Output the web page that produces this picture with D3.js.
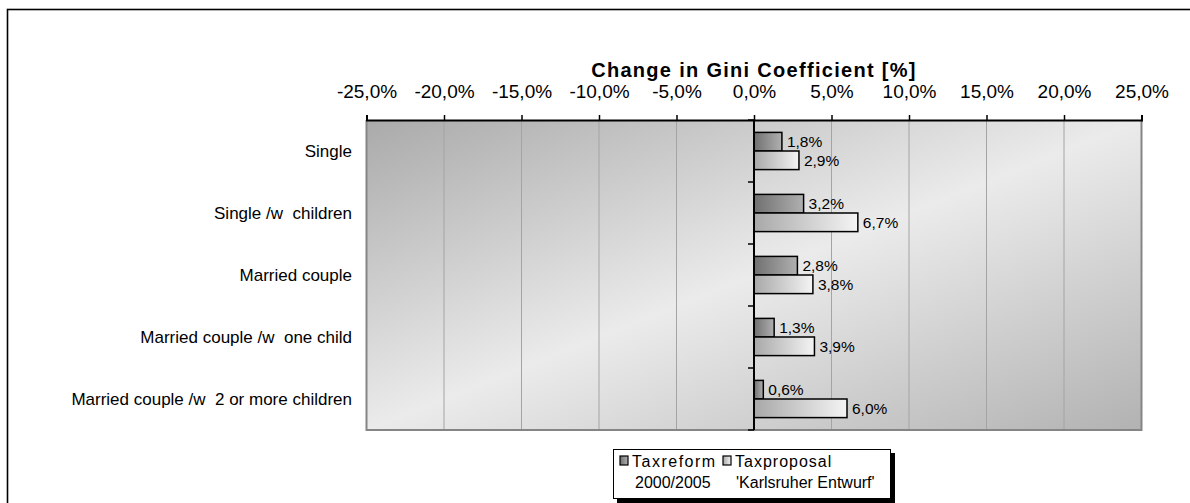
<!DOCTYPE html>
<html>
<head>
<meta charset="utf-8">
<script src="https://cdn.jsdelivr.net/npm/d3@7"></script>
<style>
  html, body { margin: 0; padding: 0; background: #fff; }
  svg { display: block; font-family: "Liberation Sans", Arial, sans-serif; }
</style>
</head>
<body>
<svg id="chart" width="1190" height="503"></svg>
<script>
// Household types and the change in the Gini coefficient (in %) under each scheme
const categories = [
  "Single",
  "Single /w  children",
  "Married couple",
  "Married couple /w  one child",
  "Married couple /w  2 or more children"
];
const taxreform = [1.8, 3.2, 2.8, 1.3, 0.6];
const karlsruhe = [2.9, 6.7, 3.8, 3.9, 6.0];
const seriesNames = [["Taxreform", "2000/2005"], ["Taxproposal", "'Karlsruher Entwurf'"]];
const xTicks = [-25, -20, -15, -10, -5, 0, 5, 10, 15, 20, 25];

// Decimal comma, plain hyphen for negatives
const fmt = v => (v < 0 ? "-" : "") + Math.abs(v).toFixed(1).replace(".", ",") + "%";

const svg = d3.select("#chart");
const plot = { left: 366.5, right: 1141.5, top: 120, bottom: 430 };

// Gradients
const defs = svg.append("defs");
const bg = defs.append("linearGradient").attr("id", "bgGrad")
  .attr("x1", 0).attr("y1", 0).attr("x2", 1).attr("y2", 1);
bg.append("stop").attr("offset", 0).attr("stop-color", "#aaaaaa");
bg.append("stop").attr("offset", 0.5).attr("stop-color", "#ebebeb");
bg.append("stop").attr("offset", 1).attr("stop-color", "#b2b2b2");

const g1 = defs.append("linearGradient").attr("id", "darkGrad");
g1.append("stop").attr("offset", 0).attr("stop-color", "#707070");
g1.append("stop").attr("offset", 1).attr("stop-color", "#b0b0b0");
const g2 = defs.append("linearGradient").attr("id", "lightGrad");
g2.append("stop").attr("offset", 0).attr("stop-color", "#a8a8a8");
g2.append("stop").attr("offset", 1).attr("stop-color", "#f4f4f4");
const fills = ["url(#darkGrad)", "url(#lightGrad)"];

// Outer frame
svg.append("rect").attr("x", 7.5).attr("y", 9.5).attr("width", 1300).attr("height", 700)
  .attr("fill", "none").attr("stroke", "#000").attr("stroke-width", 1.6);

// Scales
const x = d3.scaleLinear().domain([-25, 25]).range([plot.left, plot.right]);
const y = d3.scaleBand().domain(categories).range([plot.top, plot.bottom]).paddingInner(0.4).paddingOuter(0.2);
const ySub = d3.scaleBand().domain([0, 1]).range([0, y.bandwidth()]);

// Plot background
svg.append("rect").attr("x", plot.left).attr("y", plot.top)
  .attr("width", plot.right - plot.left).attr("height", plot.bottom - plot.top)
  .attr("fill", "url(#bgGrad)");

// Gridlines
svg.append("g").selectAll("line").data(xTicks.filter(t => t !== 0 && t !== -25 && t !== 25)).join("line")
  .attr("x1", d => x(d)).attr("x2", d => x(d))
  .attr("y1", plot.top).attr("y2", plot.bottom)
  .attr("stroke", "#a4a4a4").attr("stroke-width", 1);

// Plot border (left, right, bottom)
svg.append("path")
  .attr("d", `M${plot.left},${plot.top} V${plot.bottom} H${plot.right} V${plot.top}`)
  .attr("fill", "none").attr("stroke", "#858585").attr("stroke-width", 2);

// Top axis
const xAxis = svg.append("g").attr("transform", `translate(0,${plot.top})`)
  .call(d3.axisTop(x).tickValues(xTicks).tickFormat(fmt).tickSize(5).tickPadding(17));
xAxis.select(".domain").attr("stroke", "#000").attr("stroke-width", 2);
xAxis.selectAll(".tick line").attr("stroke", "#000").attr("stroke-width", 1.5);
xAxis.selectAll(".tick text").attr("font-size", 19).attr("fill", "#000")
  .attr("font-family", "'Liberation Sans', Arial, sans-serif");

// Title
svg.append("text").attr("x", x(0)).attr("y", 76.5).attr("text-anchor", "middle")
  .attr("font-size", 20).attr("font-weight", "bold").attr("letter-spacing", 1.3)
  .text("Change in Gini Coefficient [%]");

// Bars
const groups = svg.append("g").selectAll("g").data(categories).join("g")
  .attr("transform", d => `translate(0,${y(d)})`);
[taxreform, karlsruhe].forEach((vals, s) => {
  groups.append("rect")
    .attr("x", (d, i) => x(Math.min(0, vals[i])))
    .attr("y", ySub(s))
    .attr("width", (d, i) => Math.abs(x(vals[i]) - x(0)))
    .attr("height", ySub.bandwidth())
    .attr("fill", fills[s]).attr("stroke", "#000").attr("stroke-width", 1.5);
  groups.append("text")
    .attr("x", (d, i) => x(vals[i]) + 5)
    .attr("y", ySub(s) + ySub.bandwidth() / 2)
    .attr("dy", "0.35em")
    .attr("font-size", 15.5)
    .text((d, i) => fmt(vals[i]));
});

// Category axis along zero
const step = y.step();
const bounds = d3.range(categories.length + 1).map(i => plot.top + i * step);
svg.append("g").selectAll("line").data(bounds).join("line")
  .attr("x1", x(0) - 6).attr("x2", x(0)).attr("y1", d => d).attr("y2", d => d)
  .attr("stroke", "#000").attr("stroke-width", 1.5);
svg.append("line").attr("x1", x(0)).attr("x2", x(0)).attr("y1", plot.top).attr("y2", plot.bottom)
  .attr("stroke", "#000").attr("stroke-width", 2);

// Category labels
svg.append("g").selectAll("text").data(categories).join("text")
  .attr("x", 352).attr("y", d => y(d) + y.bandwidth() / 2).attr("dy", "0.35em")
  .attr("text-anchor", "end").attr("font-size", 17).attr("xml:space", "preserve")
  .style("white-space", "pre")
  .text(d => d);

// Legend
const lg = svg.append("g").attr("transform", "translate(613,449)");
lg.append("rect").attr("x", 4).attr("y", 4).attr("width", 278).attr("height", 50).attr("fill", "#000");
lg.append("rect").attr("x", 0.5).attr("y", 0.5).attr("width", 277).attr("height", 49)
  .attr("fill", "#fff").attr("stroke", "#000").attr("stroke-width", 1);
const itemX = [7, 110];
const headSpacing = [1.5, 1];
seriesNames.forEach((lines, s) => {
  lg.append("rect").attr("x", itemX[s]).attr("y", 7).attr("width", 8).attr("height", 9)
    .attr("fill", fills[s]).attr("stroke", "#000").attr("stroke-width", 1.2);
  lg.append("text").attr("x", itemX[s] + 12).attr("y", 18).attr("font-size", 16)
    .attr("letter-spacing", headSpacing[s]).text(lines[0]);
  lg.append("text").attr("x", itemX[s] + 15 - s * 2).attr("y", 39).attr("font-size", 16).text(lines[1]);
});
</script>
</body>
</html>
